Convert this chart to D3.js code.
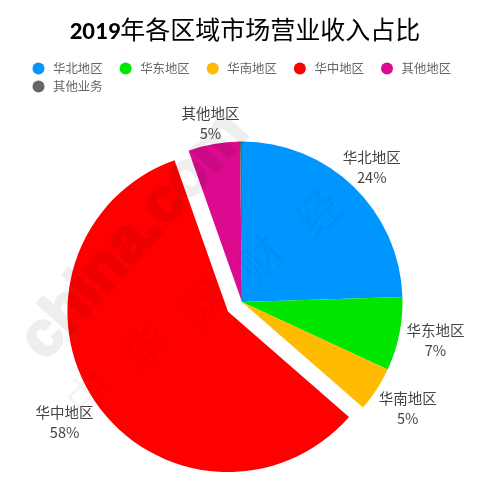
<!DOCTYPE html>
<html>
<head>
<meta charset="utf-8">
<script src="https://cdn.jsdelivr.net/npm/d3@7"></script>
<style>
  html, body { margin: 0; padding: 0; background: #fff; }
  svg { display: block; filter: blur(0.45px); }
  text { font-family: "Noto Sans CJK SC", "Noto Sans", sans-serif; }
</style>
</head>
<body>
<svg></svg>
<script>
// chart data
var regions = ['华北地区', '华东地区', '华南地区', '华中地区', '其他地区', '其他业务']
var shares = [24.5, 7.4, 4.5, 58.2, 5.2, 0.2]
var shareLabels = ['24%', '7%', '5%', '58%', '5%', '']
var colors = ['#0096ff', '#00e600', '#ffbb00', '#ff0000', '#dc0a8f', '#666666']
var explodedRegions = ['华中地区']
var watermarkWords = ['中', '华', '网', '财', '经']

var w = 488
var h = 478
var cx = 242
var cy = 302
var radius = 160.5
var explode = 17
// distance of each label from the pie edge
var labelGaps = [26, 37, 37, 37, 20, 0]

var svg = d3.select('svg')
  .attr('width', w)
  .attr('height', h)

// title
var title = svg.append('text')
  .attr('x', 245)
  .attr('y', 39)
  .attr('text-anchor', 'middle')
  .style('font-size', '25px')
  .style('fill', '#000')

title.append('tspan')
  .text('2019')
  .style('font-family', 'Carlito, "Open Sans", sans-serif')
  .style('font-weight', 700)

title.append('tspan')
  .text('年各区域市场营业收入占比')
  .style('font-weight', 400)

// legend
var legendX = d3.scalePoint()
  .domain(regions.slice(0, 5))
  .range([38.5, 387])

var legendRow = function (i) { return i < 5 ? 68.5 : 86.5 }

var legend = svg.append('g').selectAll('g')
  .data(regions)
  .enter()
  .append('g')
  .attr('transform', function (d, i) {
    return 'translate(' + (i < 5 ? legendX(d) : legendX(regions[0])) + ',' + legendRow(i) + ')'
  })

legend.append('circle')
  .attr('r', 6)
  .style('fill', function (d, i) { return colors[i] })

legend.append('text')
  .attr('x', 14.5)
  .attr('dy', '0.36em')
  .style('font-size', '12.4px')
  .style('fill', '#666')
  .text(function (d) { return d })

// pie
var pie = d3.pie()
  .sort(null)
  .value(function (d) { return d })

var arc = d3.arc()
  .innerRadius(0)
  .outerRadius(radius)

var slices = pie(shares)

function midAngle (d) {
  return (d.startAngle + d.endAngle) / 2
}

// offset of exploded slices, along their middle angle
function offset (d, i) {
  var dist = explodedRegions.indexOf(regions[i]) >= 0 ? explode : 0
  return [Math.sin(midAngle(d)) * dist, -Math.cos(midAngle(d)) * dist]
}

var g = svg.append('g')
  .attr('transform', 'translate(' + cx + ',' + cy + ')')

g.selectAll('path')
  .data(slices)
  .enter()
  .append('path')
  .attr('d', arc)
  .attr('transform', function (d, i) {
    return 'translate(' + offset(d, i) + ')'
  })
  .style('fill', function (d, i) { return colors[i] })

function labelPos (d, i) {
  var a = midAngle(d)
  var r = radius + labelGaps[i]
  var o = offset(d, i)
  return [o[0] + Math.sin(a) * r, o[1] - Math.cos(a) * r]
}

var labels = g.selectAll('.label')
  .data(slices.filter(function (d, i) { return shareLabels[i] !== '' }))
  .enter()
  .append('text')
  .attr('class', 'label')
  .attr('text-anchor', 'middle')
  .attr('transform', function (d) {
    return 'translate(' + labelPos(d, d.index) + ')'
  })
  .style('font-size', '14.5px')
  .style('fill', '#444')

labels.append('tspan')
  .attr('x', 0)
  .attr('y', -5)
  .text(function (d) { return regions[d.index] })

labels.append('tspan')
  .attr('x', 0)
  .attr('y', 15)
  .text(function (d) { return shareLabels[d.index] })

// watermark over the chart
var mark = svg.append('g')
  .style('fill', '#000')

mark.append('text')
  .attr('transform', 'translate(45,362) rotate(-48)')
  .style('font-family', '"Liberation Sans", sans-serif')
  .style('font-size', '62px')
  .style('font-weight', 700)
  .style('stroke', '#000')
  .style('stroke-width', 3)
  .style('opacity', 0.065)
  .text('china.com')

var markX = d3.scalePoint().domain(watermarkWords).range([100, 330])
var markY = d3.scalePoint().domain(watermarkWords).range([405, 225])

mark.selectAll('.word')
  .data(watermarkWords)
  .enter()
  .append('text')
  .attr('class', 'word')
  .attr('transform', function (d) {
    return 'translate(' + markX(d) + ',' + markY(d) + ') rotate(-45)'
  })
  .attr('text-anchor', 'middle')
  .style('font-size', '44px')
  .style('opacity', 0.04)
  .text(function (d) { return d })
</script>
</body>
</html>
